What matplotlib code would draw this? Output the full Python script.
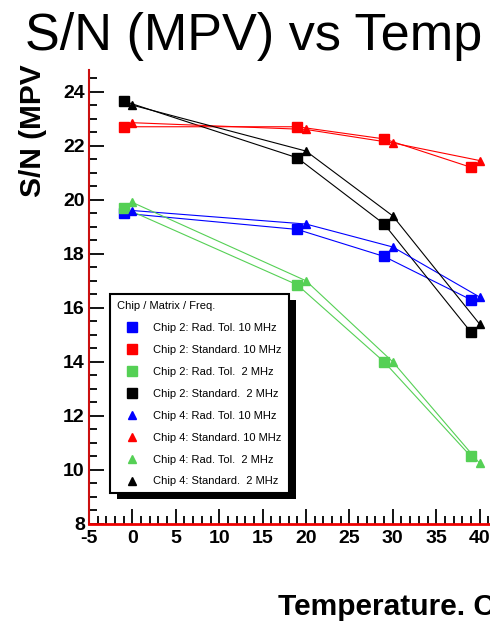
import numpy as np
import matplotlib
matplotlib.use("Agg")
import matplotlib.pyplot as plt
from matplotlib.patches import Rectangle
from matplotlib.transforms import IdentityTransform
from matplotlib.ticker import MultipleLocator

plt.rcParams['font.family'] = ['Liberation Sans', 'DejaVu Sans']
plt.rcParams['axes.unicode_minus'] = False

# temperatures (chip 4 points are shifted by +1 deg in the original plot)
temp_chip2 = [-1, 19, 29, 39]
temp_chip4 = [0, 20, 30, 40]

# S/N (MPV) values
c2_rad_10 = [19.5, 18.9, 17.9, 16.3]
c2_std_10 = [22.7, 22.7, 22.25, 21.2]
c2_rad_2 = [19.7, 16.85, 14.0, 10.5]
c2_std_2 = [23.65, 21.55, 19.1, 15.1]
c4_rad_10 = [19.6, 19.1, 18.25, 16.4]
c4_std_10 = [22.85, 22.6, 22.1, 21.45]
c4_rad_2 = [19.9, 17.0, 14.0, 10.25]
c4_std_2 = [23.5, 21.8, 19.4, 15.4]

labels = ["Chip 2: Rad. Tol. 10 MHz", "Chip 2: Standard. 10 MHz",
          "Chip 2: Rad. Tol.  2 MHz", "Chip 2: Standard.  2 MHz",
          "Chip 4: Rad. Tol. 10 MHz", "Chip 4: Standard. 10 MHz",
          "Chip 4: Rad. Tol.  2 MHz", "Chip 4: Standard.  2 MHz"]
colors = ["#0000ff", "#ff0000", "#55d055", "#000000"]

fig = plt.figure(figsize=(4.9, 6.21), dpi=100)
ax = fig.add_axes([89/490, 97/621, 401/490, 454/621])
ax.patch.set_visible(False)

series2 = [c2_rad_10, c2_std_10, c2_rad_2, c2_std_2]
series4 = [c4_rad_10, c4_std_10, c4_rad_2, c4_std_2]
for i, ys in enumerate(series2):
    ax.plot(temp_chip2, ys, color=colors[i], lw=0.8, marker='s', ms=7,
            mec=colors[i], label=labels[i], clip_on=False)
for i, ys in enumerate(series4):
    ax.plot(temp_chip4, ys, color=colors[i], lw=0.8, marker='^', ms=6,
            mec=colors[i], label=labels[i + 4], clip_on=False)

ax.set_xlim(-5, 41.2)
ax.set_ylim(8, 24.8)
ax.xaxis.set_major_locator(MultipleLocator(5))
ax.xaxis.set_minor_locator(MultipleLocator(1))
ax.yaxis.set_major_locator(MultipleLocator(2))
ax.yaxis.set_minor_locator(MultipleLocator(0.5))
ax.tick_params(which='both', direction='in', width=1.3, color='black',
               top=False, right=False)
ax.tick_params(which='major', length=11)
ax.tick_params(which='minor', length=6)
ax.tick_params(axis='y', which='major', pad=3, labelsize=14)
ax.tick_params(axis='x', which='major', pad=4, labelsize=14)
for lab in ax.get_xticklabels() + ax.get_yticklabels():
    lab.set_fontweight('bold')

ax.spines['top'].set_visible(False)
ax.spines['right'].set_visible(False)
ax.spines['left'].set_color('#cc1010')
ax.spines['left'].set_linewidth(1.5)
ax.spines['bottom'].set_color('#ee0000')
ax.spines['bottom'].set_linewidth(2)

leg = ax.legend(loc='upper left', bbox_to_anchor=(0.0524, 0.5066),
                borderaxespad=0, title="Chip / Matrix / Freq.",
                alignment='left', fontsize=8, title_fontsize=8,
                handlelength=2.8, handletextpad=0.5, labelspacing=1.07,
                borderpad=0.6, fancybox=False, framealpha=1,
                edgecolor='black')
leg.get_frame().set_linewidth(1.5)
leg._legend_box.sep = 9
for h in leg.get_lines():
    h.set_linestyle('none')

fig.text(25/490, 1 - 50/621, "S/N (MPV) vs Temp", fontsize=37.6,
         ha='left', va='baseline')
fig.text(33/490, 1 - 197/621, "S/N (MPV", fontsize=21.5, fontweight='bold',
         rotation=90, ha='center', va='bottom')
fig.text(278/490, 1 - 615/621, "Temperature. C", fontsize=21.5,
         fontweight='bold', ha='left', va='baseline')

# ROOT-style solid shadow behind the legend box
fig.canvas.draw()
bb = leg.get_window_extent()
shadow = Rectangle((bb.x0 + 7, bb.y0 - 6), bb.width, bb.height,
                   transform=IdentityTransform(), facecolor='black',
                   edgecolor='none', zorder=leg.get_zorder() - 0.1)
ax.add_artist(shadow)

fig.savefig("out.png", dpi=100)
